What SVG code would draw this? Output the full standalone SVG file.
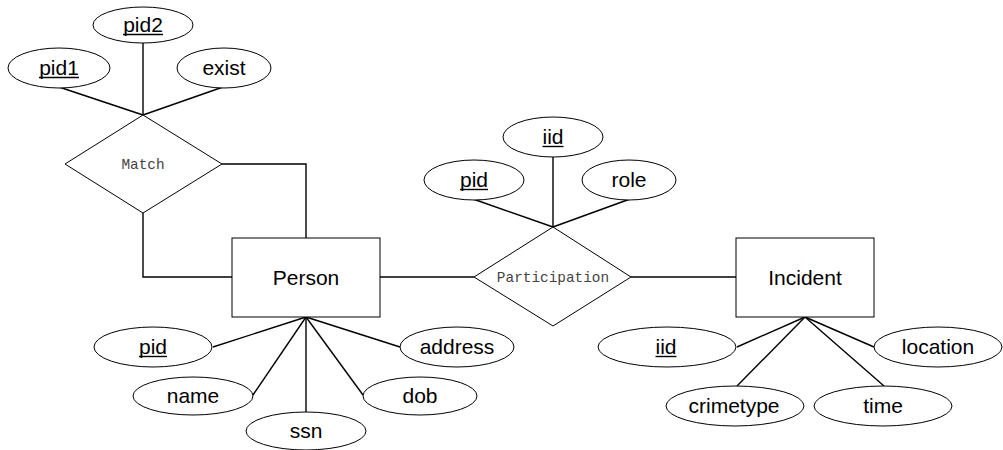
<svg xmlns="http://www.w3.org/2000/svg" width="1003" height="450" viewBox="0 0 1003 450">
<style>
.bg{fill:#fff}
.ent{fill:#fff;stroke:#000;stroke-width:1}
.rel{fill:#fff;stroke:#000;stroke-width:1}
.att{fill:#fff;stroke:#000;stroke-width:1}
.con{fill:none;stroke:#000;stroke-width:1.4}
.ul{stroke:#000;stroke-width:1.4}
.t{font-family:"Liberation Sans",Arial,sans-serif;font-size:21px;fill:#000;text-anchor:middle}
.r{font-family:"Liberation Mono","Courier New",monospace;font-size:14.4px;fill:#444;text-anchor:middle}
</style>
<rect class="bg" x="0" y="0" width="1003" height="450"/>
<g id="connectors">
<line class="con" x1="59" y1="87" x2="143" y2="115"/>
<line class="con" x1="143" y1="43" x2="143" y2="115"/>
<line class="con" x1="223" y1="87" x2="143" y2="115"/>
<polyline class="con" points="222,164 306,164 306,238"/>
<polyline class="con" points="143,213 143,277 232,277"/>
<line class="con" x1="380" y1="277" x2="474" y2="277"/>
<line class="con" x1="631" y1="277" x2="736" y2="277"/>
<line class="con" x1="473" y1="199" x2="553" y2="227"/>
<line class="con" x1="553" y1="157" x2="553" y2="227"/>
<line class="con" x1="630" y1="199" x2="553" y2="227"/>
<line class="con" x1="306" y1="317" x2="213" y2="347"/>
<line class="con" x1="306" y1="317" x2="253" y2="395"/>
<line class="con" x1="306" y1="317" x2="306" y2="412"/>
<line class="con" x1="306" y1="317" x2="363" y2="395"/>
<line class="con" x1="306" y1="317" x2="400" y2="347"/>
<line class="con" x1="805" y1="317" x2="737" y2="347"/>
<line class="con" x1="805" y1="317" x2="737" y2="386"/>
<line class="con" x1="805" y1="317" x2="884" y2="386"/>
<line class="con" x1="805" y1="317" x2="874" y2="347"/>
</g>
<g id="match">
<polygon class="rel" points="143,115 222,164 143,213 65,164"/>
<text class="r" x="143" y="168.5">Match</text>
</g>
<g id="participation">
<polygon class="rel" points="553,227 631,277 553,326 474,277"/>
<text class="r" x="553" y="282">Participation</text>
</g>
<g id="person">
<rect class="ent" x="232" y="238" width="148" height="79"/>
<text class="t" x="306" y="285">Person</text>
</g>
<g id="incident">
<rect class="ent" x="736" y="238" width="138" height="79"/>
<text class="t" x="805" y="285">Incident</text>
</g>
<g id="match-pid1">
<ellipse class="att" cx="59" cy="68" rx="51" ry="20"/>
<text class="t" x="59" y="74.5">pid1</text>
<line class="ul" x1="39" y1="77.5" x2="79" y2="77.5"/>
</g>
<g id="match-pid2">
<ellipse class="att" cx="143" cy="25" rx="50" ry="18"/>
<text class="t" x="143" y="31.5">pid2</text>
<line class="ul" x1="123" y1="34.5" x2="163" y2="34.5"/>
</g>
<g id="match-exist">
<ellipse class="att" cx="224" cy="68" rx="47" ry="20"/>
<text class="t" x="224" y="74.5">exist</text>
</g>
<g id="part-pid">
<ellipse class="att" cx="474" cy="180" rx="50" ry="20"/>
<text class="t" x="474" y="186.5">pid</text>
<line class="ul" x1="460" y1="189.5" x2="488" y2="189.5"/>
</g>
<g id="part-iid">
<ellipse class="att" cx="553" cy="137" rx="50" ry="20"/>
<text class="t" x="553" y="143.5">iid</text>
<line class="ul" x1="542.5" y1="146.5" x2="563.5" y2="146.5"/>
</g>
<g id="part-role">
<ellipse class="att" cx="629" cy="180" rx="47" ry="20"/>
<text class="t" x="629" y="186.5">role</text>
</g>
<g id="person-pid">
<ellipse class="att" cx="153" cy="347" rx="59" ry="20"/>
<text class="t" x="153" y="353.5">pid</text>
<line class="ul" x1="139" y1="356.5" x2="167" y2="356.5"/>
</g>
<g id="person-name">
<ellipse class="att" cx="193" cy="396" rx="60" ry="19"/>
<text class="t" x="193" y="402.5">name</text>
</g>
<g id="person-ssn">
<ellipse class="att" cx="306" cy="431" rx="60" ry="19"/>
<text class="t" x="306" y="437.5">ssn</text>
</g>
<g id="person-dob">
<ellipse class="att" cx="420" cy="396" rx="57" ry="19"/>
<text class="t" x="420" y="402.5">dob</text>
</g>
<g id="person-address">
<ellipse class="att" cx="457" cy="347" rx="57" ry="20"/>
<text class="t" x="457" y="353.5">address</text>
</g>
<g id="incident-iid">
<ellipse class="att" cx="667" cy="347" rx="69" ry="20"/>
<text class="t" x="666" y="353.5">iid</text>
<line class="ul" x1="655.5" y1="356.5" x2="676.5" y2="356.5"/>
</g>
<g id="incident-location">
<ellipse class="att" cx="938" cy="347" rx="64" ry="20"/>
<text class="t" x="938" y="353.5">location</text>
</g>
<g id="incident-crimetype">
<ellipse class="att" cx="735" cy="406" rx="69" ry="20"/>
<text class="t" x="734" y="412.5">crimetype</text>
</g>
<g id="incident-time">
<ellipse class="att" cx="883" cy="406" rx="69" ry="20"/>
<text class="t" x="883" y="412.5">time</text>
</g>
</svg>
